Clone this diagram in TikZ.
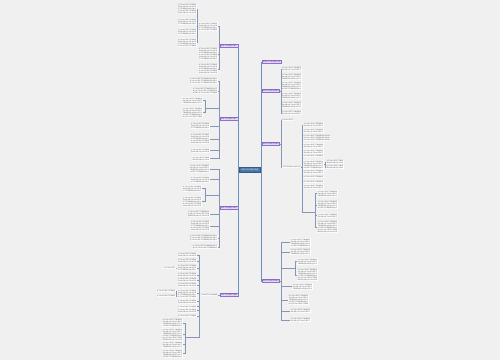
\documentclass[tikz,border=0pt]{standalone}
\usepackage{fontspec}
\newfontfamily\cjk{Noto Sans CJK SC}
\definecolor{bgc}{HTML}{F0F0F0}
\definecolor{ctrf}{HTML}{4A74A6}
\definecolor{ctrd}{HTML}{33598A}
\definecolor{topicf}{HTML}{E6DCF6}
\definecolor{topicd}{HTML}{9070CC}
\definecolor{topict}{HTML}{4E2F88}
\definecolor{txtc}{HTML}{505050}
\definecolor{linkc}{HTML}{8696B6}
\definecolor{trunkc}{HTML}{6F8FBD}
\newcount\txtline \newcount\txtchar \newcount\txtpos
\newcommand{\txtchr}{\ifcase\txtpos 在\or 工\or 作\or 中\or 认\or 真\or 学\or 习\or 不\or 断\or 提\or 高\or 自\or 身\or 业\or 务\or 能\or 力\fi}
\newcommand{\txtrow}[1]{\ifnum\txtchar<#1\relax\txtchr\advance\txtchar 1 \advance\txtpos 1 \ifnum\txtpos>17 \txtpos=0 \fi\txtrow{#1}\fi}
\newcommand{\txtlines}[2]{\txtline=0 \loop\ifnum\txtline<#1 \ifnum\txtline>0 \newline\fi\txtchar=0 \txtrow{#2}\advance\txtline 1 \repeat}
\newcommand{\tnL}[5]{\node[txt,anchor=east,text width=#5*1.5pt+0.2pt] (#1) at (#2,#3) {\txtlines{#4}{#5}};}
\newcommand{\tnR}[5]{\node[txt,anchor=west,text width=#5*1.5pt+0.2pt] (#1) at (#2,#3) {\txtlines{#4}{#5}};}
\newcommand{\lnkL}[3][link]{\draw[#1] (#2.west) -| ([xshift=-1pt]#2.west |- #3.east) -- (#3.east);}
\newcommand{\lnkR}[3][link]{\draw[#1] (#2.east) -| ([xshift=1pt]#2.east |- #3.west) -- (#3.west);}
\newcommand{\lnkLc}[2]{\draw[link] (#1.west) -| ([xshift=-1pt]#1.west |- #2) -- (#2);}
\newcommand{\lnkRc}[2]{\draw[link] (#1.east) -| ([xshift=1pt]#1.east |- #2) -- (#2);}
\newcommand{\lnkJ}[2]{\draw[link] (#1) |- (#2);}
\begin{document}
\begin{tikzpicture}[x=1pt,y=-1pt,
    txt/.style={fill=white,inner sep=0.5pt,text=txtc,align=left,font=\cjk\fontsize{1.5pt}{2pt}\selectfont},
    topic/.style={fill=topicf,draw=topicd,line width=0.4pt,text=topict,inner sep=0.7pt,font=\cjk\fontsize{1.6pt}{2pt}\selectfont},
    root/.style={fill=ctrf,draw=ctrd,line width=0.4pt,text=white,minimum width=21pt,minimum height=4.5pt,inner sep=0pt,font=\cjk\fontsize{1.7pt}{2pt}\selectfont},
    link/.style={draw=linkc,line width=0.45pt},
    trunk/.style={draw=trunkc,line width=0.6pt},
    ]
    \fill[bgc] (0,0) rectangle (500,360);
    \useasboundingbox (0,0) rectangle (500,360);

    \node[root] (ctr) at (250,169.5) {年终工作总结范文精选};

    \node[topic,anchor=east] (L1) at (238,46) {年终工作总结范文篇一};
    \node[topic,anchor=east] (L2) at (238,119) {年终工作总结范文篇二};
    \node[topic,anchor=east] (L3) at (238,208) {年终工作总结范文篇三};
    \node[topic,anchor=east] (L4) at (238,295) {年终工作总结范文篇四};
    \node[topic,anchor=west] (R1) at (262,62) {年度个人工作总结与计划};
    \node[topic,anchor=west] (R2) at (262,91) {年终工作总结范文篇五};
    \node[topic,anchor=west] (R3) at (262,144) {年终工作总结范文篇六};
    \node[topic,anchor=west] (R4) at (262,281) {年终工作总结范文篇七};

    \tnL{L1a}{218}{26.5}{4}{12}
    \tnL{L1a1}{197}{9}{5}{12}
    \tnL{L1a2}{197}{21.5}{3}{12}
    \tnL{L1a3}{197}{31.5}{3}{12}
    \tnL{L1a4}{197}{42.5}{4}{12}
    \tnL{L1b}{218}{54}{6}{12}
    \tnL{L1c}{218}{69}{5}{12}

    \tnL{L2a}{218}{81}{3}{18}
    \tnL{L2b}{218}{91}{3}{16}
    \coordinate (L2j) at (205,108);
    \tnL{L2c1}{203}{100.5}{3}{13}
    \tnL{L2c2}{203}{112.5}{5}{13}
    \tnL{L2d}{210}{126}{3}{12}
    \tnL{L2e}{210}{139}{5}{12}
    \tnL{L2f}{210}{150.5}{2}{12}
    \tnL{L2g}{210}{158.5}{2}{11}

    \tnL{L3a}{210}{169}{4}{13}
    \tnL{L3b}{210}{179.5}{3}{12}
    \coordinate (L3j) at (205,195);
    \tnL{L3c1}{202}{188.5}{3}{12}
    \tnL{L3c2}{202}{201.5}{5}{12}
    \tnL{L3d}{210}{214}{3}{14}
    \tnL{L3e}{210}{226}{5}{12}
    \tnL{L3f}{218}{238}{3}{18}
    \tnL{L3g}{218}{247}{2}{16}

    \node[txt,anchor=east] (L4m) at (218,295) {工作中的不足与改进措施};
    \tnL{L4a}{197}{255}{2}{12}
    \tnL{L4b}{197}{261}{2}{12}
    \tnL{L4c}{197}{268}{3}{12}
    \tnL{L4c1}{176}{268}{1}{7}
    \tnL{L4d}{197}{275}{2}{12}
    \tnL{L4e}{197}{280}{2}{12}
    \tnL{L4f}{197}{285}{2}{12}
    \tnL{L4g}{197}{293.5}{4}{12}
    \tnL{L4g1}{176}{291}{1}{12}
    \tnL{L4g2}{176}{296}{1}{12}
    \tnL{L4h}{197}{301.5}{2}{12}
    \tnL{L4i}{197}{306.5}{1}{12}
    \tnL{L4j}{197}{310.5}{2}{12}
    \tnL{L4k}{197}{316}{1}{12}
    \coordinate (L4x) at (185,337);
    \tnL{L4x1}{183}{323.25}{4}{13}
    \tnL{L4x2}{183}{334.5}{6}{13}
    \tnL{L4x3}{183}{344.5}{3}{13}
    \tnL{L4x4}{183}{353.5}{4}{13}

    \tnR{R2a}{281}{69}{2}{13}
    \tnR{R2b}{281}{77}{3}{13}
    \tnR{R2c}{281}{85.5}{4}{13}
    \tnR{R2d}{281}{95.5}{3}{13}
    \tnR{R2e}{281}{105}{3}{13}
    \tnR{R2f}{281}{113}{2}{13}

    \tnR{R3a}{281}{120}{1}{8}
    \node[txt,anchor=west] (R3m) at (282,167) {今后工作的努力方向与计划};
    \tnR{R3b}{303}{125}{2}{13}
    \tnR{R3c}{303}{130.5}{2}{13}
    \tnR{R3d}{303}{138}{3}{18}
    \tnR{R3e}{303}{145.5}{2}{13}
    \tnR{R3f}{303}{151.5}{2}{13}
    \tnR{R3g}{303}{156}{1}{13}
    \tnR{R3h}{303}{164.5}{4}{13}
    \tnR{R3h1}{326}{162}{2}{11}
    \tnR{R3h2}{326}{167}{2}{11}
    \tnR{R3i}{303}{171.5}{2}{13}
    \tnR{R3j}{303}{177}{1}{13}
    \tnR{R3k}{303}{182}{1}{13}
    \tnR{R3l}{303}{186.5}{2}{13}
    \coordinate (R3y) at (315,212);
    \tnR{R3y1}{317}{193.5}{3}{13}
    \tnR{R3y2}{317}{205}{4}{13}
    \tnR{R3y3}{317}{215.5}{2}{13}
    \tnR{R3y4}{317}{227}{6}{13}

    \tnR{R4a}{290}{242.5}{4}{13}
    \tnR{R4b}{290}{252}{3}{13}
    \coordinate (R4j) at (295,268);
    \tnR{R4j1}{297}{261.5}{3}{13}
    \tnR{R4j2}{297}{275}{6}{13}
    \tnR{R4c}{292}{286.5}{3}{13}
    \tnR{R4d}{288}{300}{5}{13}
    \tnR{R4e}{290}{311}{2}{13}
    \tnR{R4f}{290}{320}{2}{13}

    \lnkL[trunk]{ctr}{L1} \lnkL[trunk]{ctr}{L2} \lnkL[trunk]{ctr}{L3} \lnkL[trunk]{ctr}{L4}
    \lnkR[trunk]{ctr}{R1} \lnkR[trunk]{ctr}{R2} \lnkR[trunk]{ctr}{R3} \lnkR[trunk]{ctr}{R4}

    \lnkL{L1}{L1a} \lnkL{L1}{L1b} \lnkL{L1}{L1c}
    \lnkL{L1a}{L1a1} \lnkL{L1a}{L1a2} \lnkL{L1a}{L1a3} \lnkL{L1a}{L1a4}

    \lnkL{L2}{L2a} \lnkL{L2}{L2b} \lnkLc{L2}{L2j}
    \lnkJ{L2j}{L2c1.east} \lnkJ{L2j}{L2c2.east}
    \lnkL{L2}{L2d} \lnkL{L2}{L2e} \lnkL{L2}{L2f} \lnkL{L2}{L2g}

    \lnkL{L3}{L3a} \lnkL{L3}{L3b} \lnkLc{L3}{L3j}
    \lnkJ{L3j}{L3c1.east} \lnkJ{L3j}{L3c2.east}
    \lnkL{L3}{L3d} \lnkL{L3}{L3e} \lnkL{L3}{L3f} \lnkL{L3}{L3g}

    \lnkL{L4}{L4m}
    \lnkL{L4m}{L4a} \lnkL{L4m}{L4b} \lnkL{L4m}{L4c} \lnkL{L4m}{L4d}
    \lnkL{L4m}{L4e} \lnkL{L4m}{L4f} \lnkL{L4m}{L4g} \lnkL{L4m}{L4h}
    \lnkL{L4m}{L4i} \lnkL{L4m}{L4j} \lnkL{L4m}{L4k}
    \lnkL{L4c}{L4c1} \lnkL{L4g}{L4g1} \lnkL{L4g}{L4g2}
    \lnkLc{L4m}{L4x}
    \lnkJ{L4x}{L4x1.east} \lnkJ{L4x}{L4x2.east} \lnkJ{L4x}{L4x3.east} \lnkJ{L4x}{L4x4.east}

    \lnkR{R2}{R2a} \lnkR{R2}{R2b} \lnkR{R2}{R2c}
    \lnkR{R2}{R2d} \lnkR{R2}{R2e} \lnkR{R2}{R2f}

    \lnkR{R3}{R3a} \lnkR{R3}{R3m}
    \lnkR{R3m}{R3b} \lnkR{R3m}{R3c} \lnkR{R3m}{R3d} \lnkR{R3m}{R3e}
    \lnkR{R3m}{R3f} \lnkR{R3m}{R3g} \lnkR{R3m}{R3h} \lnkR{R3m}{R3i}
    \lnkR{R3m}{R3j} \lnkR{R3m}{R3k} \lnkR{R3m}{R3l}
    \lnkR{R3h}{R3h1} \lnkR{R3h}{R3h2}
    \lnkRc{R3m}{R3y}
    \lnkJ{R3y}{R3y1.west} \lnkJ{R3y}{R3y2.west} \lnkJ{R3y}{R3y3.west} \lnkJ{R3y}{R3y4.west}

    \lnkR{R4}{R4a} \lnkR{R4}{R4b} \lnkRc{R4}{R4j}
    \lnkJ{R4j}{R4j1.west} \lnkJ{R4j}{R4j2.west}
    \lnkR{R4}{R4c} \lnkR{R4}{R4d} \lnkR{R4}{R4e} \lnkR{R4}{R4f}
\end{tikzpicture}
\end{document}
